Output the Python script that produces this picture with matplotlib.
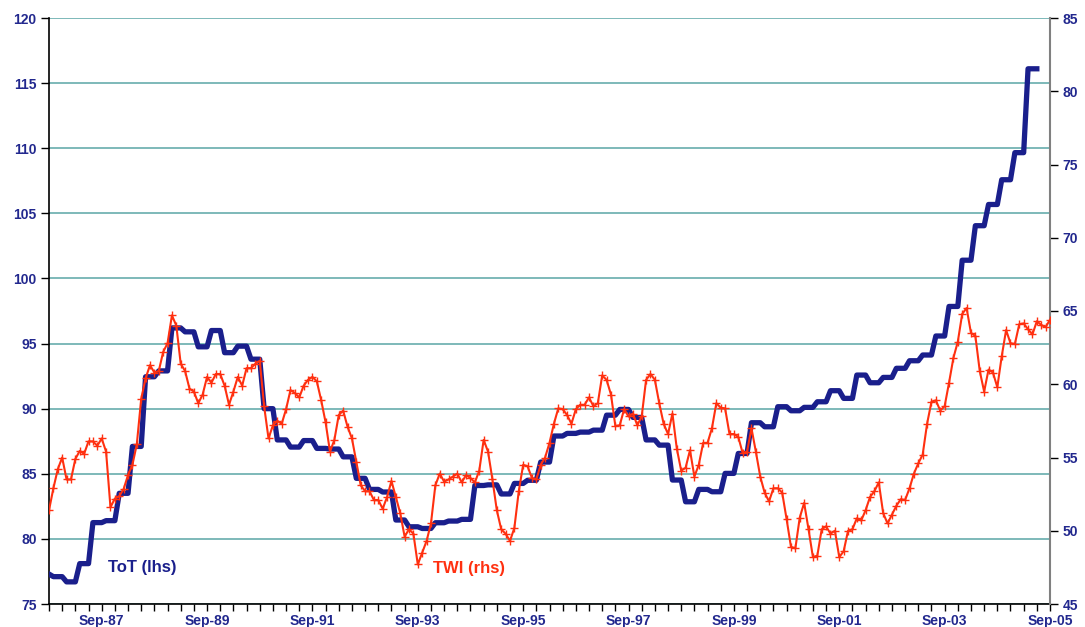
import numpy as np
import matplotlib
matplotlib.use('Agg')
import matplotlib.pyplot as plt
from matplotlib.ticker import FixedLocator

plt.rcParams['font.family'] = ['Liberation Sans', 'DejaVu Sans']

# Monthly TWI (rhs), Sep-86 .. Sep-05
twi = [
    51.4, 52.9, 54.2, 55.0, 53.5, 53.5, 54.9, 55.45, 55.25, 56.1,
    56.1, 55.8, 56.3, 55.4, 51.6, 52.2, 52.35, 52.85, 53.8, 54.5,
    55.9, 59.0, 60.4, 61.3, 60.8, 60.9, 62.2, 62.8, 64.7, 64.0,
    61.4, 60.9, 59.7, 59.5, 58.7, 59.3, 60.5, 60.1,
    60.7, 60.7, 59.9, 58.6, 59.5, 60.5, 59.9, 61.1, 61.1, 61.4,
    61.6, 58.5, 56.3, 57.2, 57.5, 57.3, 58.3, 59.6, 59.4, 59.1,
    59.9, 60.3, 60.5, 60.2, 58.9, 57.4, 55.4, 56.2, 57.9, 58.2,
    57.1, 56.3, 54.7, 53.1, 52.7, 52.7, 52.1, 52.1,
    51.5, 52.3, 53.4, 52.3, 51.2, 49.6, 50.1, 49.8, 47.7, 48.5,
    49.3, 50.5, 53.1, 53.9, 53.35, 53.5, 53.7, 53.9, 53.3, 53.8,
    53.6, 53.3, 54.1, 56.2, 55.4, 53.5, 51.4, 50.1, 49.8, 49.3,
    50.2, 52.7, 54.5, 54.4, 53.6, 53.5,
    54.5,
    55.0, 56.0, 57.3, 58.35, 58.3, 57.9, 57.3, 58.3, 58.6, 58.6,
    59.1, 58.5, 58.7, 60.6, 60.3, 59.3, 57.15, 57.2, 58.3, 57.8,
    58.0, 57.2, 57.8, 60.3, 60.7, 60.3, 58.7, 57.3, 56.6, 58.0,
    55.6, 54.1, 54.3, 55.5, 53.7, 54.5, 56.0, 56.0,
    57.0, 58.7, 58.4, 58.35, 56.6, 56.6, 56.4, 55.3, 55.4, 57.0,
    55.4, 53.7, 52.6, 52.0, 52.9, 52.9, 52.6, 50.8, 48.9, 48.8,
    50.9, 51.9, 50.1, 48.2, 48.3, 50.1, 50.3, 49.8, 50.0, 48.2,
    48.6, 50.0, 50.1, 50.85, 50.7, 51.4, 52.3, 52.7,
    53.3, 51.2, 50.5, 51.1, 51.7, 52.15, 52.1, 52.9, 53.9, 54.6,
    55.2, 57.3, 58.8, 58.9, 58.2, 58.5, 60.1, 61.8, 62.9, 64.8,
    65.2, 63.5, 63.3, 60.9, 59.5, 61.0, 60.8, 59.8, 61.9, 63.7,
    62.8, 62.75, 64.1, 64.15, 63.75, 63.4, 64.3, 64.05, 63.9, 64.4,
]

# Quarterly ToT (lhs): Q3-86 (Sep-86 only) then Q4-86 .. Q2-05
tot_q = [
    77.3,
    77.1, 76.7, 78.1, 81.25, 81.4, 83.5, 87.1, 92.45, 92.9, 96.2,
    95.9, 94.75, 96.0, 94.3, 94.8, 93.8, 90.0, 87.6, 87.05, 87.55,
    86.95, 86.9, 86.3, 84.65, 83.8, 83.6, 81.45, 80.93, 80.8, 81.24,
    81.37, 81.5, 84.1, 84.15, 83.45, 84.26, 84.5, 85.9, 87.9, 88.1,
    88.2, 88.35, 89.5, 89.94, 89.33, 87.6, 87.2, 84.52, 82.85, 83.8,
    83.62, 85.03, 86.56, 88.92, 88.61, 90.15, 89.84, 90.1, 90.53, 91.38,
    90.79, 92.58, 91.99, 92.4, 93.1, 93.68, 94.12, 95.58, 97.85, 101.4,
    104.05, 105.68, 107.58, 109.66, 116.1,
]

xtick_labels = ["Sep-87", "Sep-89", "Sep-91", "Sep-93", "Sep-95",
                "Sep-97", "Sep-99", "Sep-01", "Sep-03", "Sep-05"]
left_ticks = [75, 80, 85, 90, 95, 100, 105, 110, 115, 120]
right_ticks = [45, 50, 55, 60, 65, 70, 75, 80, 85]

months = np.arange(len(twi))
tot_monthly = np.concatenate([[tot_q[0]], np.repeat(tot_q[1:], 3)])
tot_x = np.arange(len(tot_monthly))

NAVY = '#1A1F8C'
RED = '#FF3010'
LBL = '#22288E'

fig = plt.figure(figsize=(10.85, 6.27), dpi=100)
ax = fig.add_axes([49 / 1085, 23 / 627, 1001 / 1085, 586 / 627])
ax2 = ax.twinx()

ax.set_xlim(0, len(twi) - 1)
ax.set_ylim(left_ticks[0], left_ticks[-1])
ax2.set_ylim(right_ticks[0], right_ticks[-1])

ax.yaxis.grid(True, color='#5AA5A5', lw=1.1)
ax.set_axisbelow(True)

ax.plot(tot_x, tot_monthly, color=NAVY, lw=3.8, zorder=3)
ax2.plot(months, twi, color=RED, lw=1.5, marker='+', ms=6, mew=1.0, zorder=4)

ax.set_yticks(left_ticks)
ax2.set_yticks(right_ticks)
ax.set_yticklabels([str(t) for t in left_ticks])
ax2.set_yticklabels([str(t) for t in right_ticks])

major_x = [12 + 24 * i for i in range(len(xtick_labels))]
ax.xaxis.set_major_locator(FixedLocator(major_x))
ax.set_xticklabels(xtick_labels)
ax.xaxis.set_minor_locator(FixedLocator(list(range(0, len(twi), 3))))

for a in (ax, ax2):
    a.spines['top'].set_visible(False)
ax.spines['right'].set_visible(False)
ax2.spines['left'].set_visible(False)
ax2.spines['bottom'].set_visible(False)
ax2.spines['right'].set_color('#808080')
ax2.spines['right'].set_linewidth(1.5)
ax.spines['left'].set_linewidth(1.2)
ax.spines['bottom'].set_linewidth(1.2)

ax.tick_params(axis='y', direction='out', length=6, width=1, pad=3,
               labelsize=10, labelcolor=LBL)
ax2.tick_params(axis='y', direction='out', length=6, width=1, pad=3,
                labelsize=10, labelcolor=LBL)
ax.tick_params(axis='x', which='both', direction='out', length=5, width=1,
               pad=2, labelsize=10, labelcolor=LBL)
for lab in ax.get_xticklabels() + ax.get_yticklabels() + ax2.get_yticklabels():
    lab.set_fontweight('bold')

ax.text(13.4, 77.8, 'ToT (lhs)', color=NAVY, fontsize=12, fontweight='bold',
        ha='left', va='center')
ax.text(87.5, 77.7, 'TWI (rhs)', color=RED, fontsize=12, fontweight='bold',
        ha='left', va='center')

fig.savefig('out.png', dpi=100)
